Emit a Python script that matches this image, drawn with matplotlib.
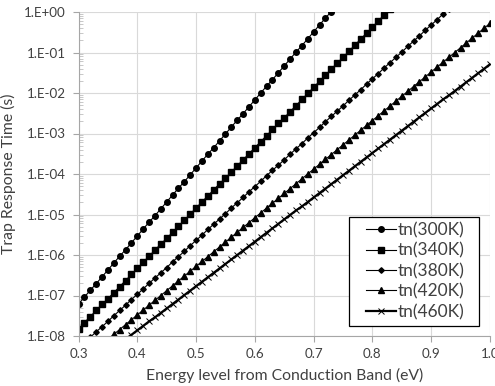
import numpy as np
import matplotlib
matplotlib.use("Agg")
import matplotlib.pyplot as plt
from matplotlib.patches import Rectangle
from matplotlib.ticker import FixedLocator, FixedFormatter, LogLocator, NullFormatter

plt.rcParams['font.family'] = ['Lato', 'DejaVu Sans']

# Energy level from conduction band (eV), 0.01 eV steps starting at 0.30
energy_start = 0.30
energy_step = 0.01
energy_count = 71

series_labels = ["tn(300K)", "tn(340K)", "tn(380K)", "tn(420K)", "tn(460K)"]

# log10 of trap response time (s) at each 0.01 eV point
log_tn_300 = [-7.21, -7.04, -6.87, -6.71, -6.54, -6.37, -6.20, -6.03, -5.87, -5.70,
              -5.53, -5.36, -5.19, -5.03, -4.86, -4.69, -4.52, -4.35, -4.19, -4.02,
              -3.85, -3.68, -3.51, -3.35, -3.18, -3.01, -2.84, -2.67, -2.51, -2.34,
              -2.17, -2.00, -1.83, -1.67, -1.50, -1.33, -1.16, -0.99, -0.83, -0.66,
              -0.49, -0.32, -0.15, 0.01, 0.18]
log_tn_340 = [-7.82, -7.67, -7.52, -7.37, -7.22, -7.08, -6.93, -6.78, -6.63, -6.48,
              -6.33, -6.18, -6.03, -5.88, -5.73, -5.59, -5.44, -5.29, -5.14, -4.99,
              -4.84, -4.69, -4.54, -4.39, -4.24, -4.10, -3.95, -3.80, -3.65, -3.50,
              -3.35, -3.20, -3.05, -2.90, -2.75, -2.61, -2.46, -2.31, -2.16, -2.01,
              -1.86, -1.71, -1.56, -1.41, -1.26, -1.12, -0.97, -0.82, -0.67, -0.52,
              -0.37, -0.22, -0.07, 0.08]
log_tn_380 = [-8.30, -8.17, -8.03, -7.90, -7.77, -7.64, -7.50, -7.37, -7.24, -7.10,
              -6.97, -6.84, -6.70, -6.57, -6.44, -6.31, -6.17, -6.04, -5.91, -5.77,
              -5.64, -5.51, -5.37, -5.24, -5.11, -4.98, -4.84, -4.71, -4.58, -4.44,
              -4.31, -4.18, -4.04, -3.91, -3.78, -3.65, -3.51, -3.38, -3.25, -3.11,
              -2.98, -2.85, -2.71, -2.58, -2.45, -2.32, -2.18, -2.05, -1.92, -1.78,
              -1.65, -1.52, -1.38, -1.25, -1.12, -0.99, -0.85, -0.72, -0.59, -0.45,
              -0.32, -0.19, -0.05, 0.08]
log_tn_420 = [-8.68, -8.56, -8.44, -8.32, -8.20, -8.08, -7.96, -7.84, -7.72, -7.60,
              -7.48, -7.36, -7.24, -7.12, -7.00, -6.88, -6.76, -6.64, -6.52, -6.40,
              -6.28, -6.16, -6.04, -5.92, -5.80, -5.68, -5.56, -5.44, -5.32, -5.20,
              -5.08, -4.96, -4.84, -4.72, -4.60, -4.48, -4.36, -4.24, -4.12, -4.00,
              -3.88, -3.76, -3.64, -3.52, -3.40, -3.28, -3.16, -3.04, -2.92, -2.80,
              -2.68, -2.56, -2.44, -2.32, -2.20, -2.08, -1.96, -1.84, -1.72, -1.60,
              -1.48, -1.36, -1.24, -1.12, -1.00, -0.88, -0.76, -0.64, -0.52, -0.40,
              -0.28]
log_tn_460 = [-8.96, -8.85, -8.74, -8.63, -8.52, -8.41, -8.30, -8.19, -8.08, -7.97,
              -7.86, -7.75, -7.64, -7.54, -7.43, -7.32, -7.21, -7.10, -6.99, -6.88,
              -6.77, -6.66, -6.55, -6.44, -6.33, -6.22, -6.11, -6.00, -5.89, -5.78,
              -5.67, -5.56, -5.45, -5.34, -5.23, -5.12, -5.01, -4.90, -4.80, -4.69,
              -4.58, -4.47, -4.36, -4.25, -4.14, -4.03, -3.92, -3.81, -3.70, -3.59,
              -3.48, -3.37, -3.26, -3.15, -3.04, -2.93, -2.82, -2.71, -2.60, -2.49,
              -2.38, -2.27, -2.16, -2.06, -1.95, -1.84, -1.73, -1.62, -1.51, -1.40,
              -1.29]

x_ticks = [0.3, 0.4, 0.5, 0.6, 0.7, 0.8, 0.9, 1.0]
x_tick_labels = ["0.3", "0.4", "0.5", "0.6", "0.7", "0.8", "0.9", "1.0"]
y_ticks = [1e-8, 1e-7, 1e-6, 1e-5, 1e-4, 1e-3, 1e-2, 1e-1, 1e0]
y_tick_labels = ["1.E-08", "1.E-07", "1.E-06", "1.E-05", "1.E-04",
                 "1.E-03", "1.E-02", "1.E-01", "1.E+00"]

x_label = "Energy level from Conduction Band (eV)"
y_label = "Trap Response Time (s)"

energy = energy_start + energy_step * np.arange(energy_count)

W, H = 495, 386
fig = plt.figure(figsize=(W / 100, H / 100), dpi=100)
ax = fig.add_axes([78.5 / W, 1 - 336 / H, (490 - 78.5) / W, (336 - 12) / H])

styles = [
    dict(marker='o', ms=4.0, lw=0.8),
    dict(marker='s', ms=4.6, lw=0.8),
    dict(marker='D', ms=2.8, lw=0.8),
    dict(marker='^', ms=4.6, lw=0.8),
    dict(marker='x', ms=3.8, lw=1.6, mew=0.7),
]
all_series = [log_tn_300, log_tn_340, log_tn_380, log_tn_420, log_tn_460]
for vals, lab, st in zip(all_series, series_labels, styles):
    v = np.asarray(vals)
    ax.plot(energy[:len(v)], 10.0 ** v, color='black', label=lab,
            mfc='black', mec='black', **st)

ax.set_yscale('log')
ax.set_xlim(0.3, 1.0)
ax.set_ylim(1e-8, 1e0)

ax.xaxis.set_major_locator(FixedLocator(x_ticks))
ax.xaxis.set_major_formatter(FixedFormatter(x_tick_labels))
ax.yaxis.set_major_locator(FixedLocator(y_ticks))
ax.yaxis.set_major_formatter(FixedFormatter(y_tick_labels))
ax.yaxis.set_minor_locator(LogLocator(base=10, subs=np.arange(2, 10), numticks=20))
ax.yaxis.set_minor_formatter(NullFormatter())

ax.grid(True, which='major', color='#d9d9d9', lw=0.8)
ax.set_axisbelow(True)
for s in ['top', 'right']:
    ax.spines[s].set_visible(False)
for s in ['left', 'bottom']:
    ax.spines[s].set_color('#a6a6a6')
    ax.spines[s].set_linewidth(0.8)

ax.tick_params(axis='both', which='major', direction='out', length=4, width=0.8,
               color='#a6a6a6', labelsize=9.6, labelcolor='#404040', pad=5)
ax.tick_params(axis='y', which='minor', direction='in', length=3, width=0.6,
               color='#bfbfbf')

ax.set_xlabel(x_label, fontsize=11.3, color='#404040', labelpad=5)
ax.set_ylabel(y_label, fontsize=11.3, color='#404040', labelpad=6)

# legend box (drawn separately to get Excel-like wide horizontal padding)
box = Rectangle((349 / W, 1 - 326 / H), 130 / W, 109 / H, transform=fig.transFigure,
                facecolor='white', edgecolor='black', lw=0.9, zorder=4.5)
fig.add_artist(box)

leg = fig.legend(loc='center left', bbox_to_anchor=(366 / W, 1 - 271 / H),
                 bbox_transform=fig.transFigure, fontsize=12.5, frameon=False,
                 handlelength=1.75, handletextpad=0.05, labelspacing=0.25,
                 borderpad=0, borderaxespad=0)
leg.set_zorder(5)
for t in leg.get_texts():
    t.set_color('#404040')

fig.savefig("out.png", dpi=100)
